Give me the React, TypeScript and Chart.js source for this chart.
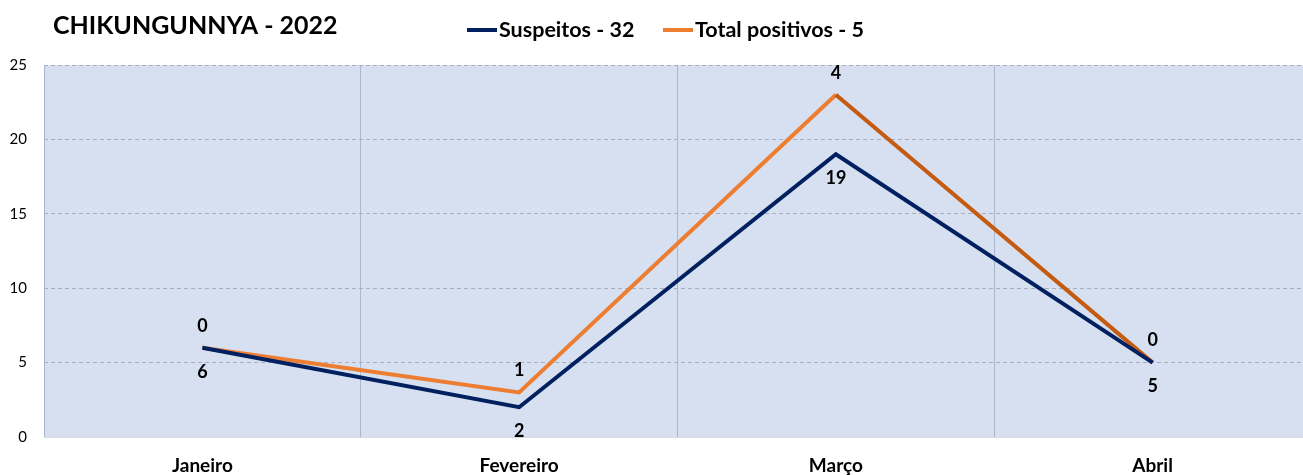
import React, { useEffect, useRef } from "react";
import { Chart, registerables } from "chart.js";

Chart.register(...registerables);

const TITLE = "CHIKUNGUNNYA - 2022";
const MONTHS = ["Janeiro", "Fevereiro", "Março", "Abril"];
const SUSPEITOS = [6, 2, 19, 5];
const POSITIVOS = [0, 1, 4, 0];
const SERIES_LABELS = ["Suspeitos - 32", "Total positivos - 5"];
const Y_MIN = 0;
const Y_MAX = 25;
const Y_STEP = 5;

const NAVY = "#002060";
const ORANGE = "#ED7D31";
const ORANGE_DARK = "#C55A11";
const FONT = "Lato, 'Open Sans', sans-serif";

const bgPlugin = {
  id: "plotBg",
  beforeDraw(chart: any) {
    const { ctx, chartArea } = chart;
    ctx.save();
    ctx.fillStyle = "#D6E0F1";
    ctx.fillRect(chartArea.left, chartArea.top, chartArea.right - chartArea.left, chartArea.bottom - chartArea.top);
    ctx.restore();
  },
};

const labelsPlugin = {
  id: "valueLabels",
  afterDatasetsDraw(chart: any) {
    const { ctx } = chart;
    ctx.save();
    ctx.font = `bold 18px ${FONT}`;
    ctx.fillStyle = "#000";
    ctx.textAlign = "center";
    ctx.textBaseline = "middle";
    chart.data.datasets.forEach((ds: any, di: number) => {
      const meta = chart.getDatasetMeta(di);
      meta.data.forEach((pt: any, i: number) => {
        const v = ds.data[i];
        const dy = di === 0 ? 24 : -22;
        ctx.fillText(String(v), pt.x, pt.y + dy);
      });
    });
    ctx.restore();
  },
};

const headerPlugin = {
  id: "header",
  afterDraw(chart: any) {
    const { ctx } = chart;
    ctx.save();
    ctx.fillStyle = "#000";
    ctx.textBaseline = "middle";
    ctx.textAlign = "left";
    ctx.font = `bold 25px ${FONT}`;
    ctx.fillText(TITLE, 53, 26);
    ctx.font = `bold 21.5px ${FONT}`;
    const colors = [NAVY, ORANGE];
    const xs = [467, 663];
    chart.data.datasets.forEach((ds: any, i: number) => {
      ctx.strokeStyle = colors[i];
      ctx.lineWidth = 4;
      ctx.beginPath();
      ctx.moveTo(xs[i], 30);
      ctx.lineTo(xs[i] + 30, 30);
      ctx.stroke();
      ctx.fillText(ds.label, xs[i] + 32, 30);
    });
    ctx.restore();
  },
};

export default function App() {
  const ref = useRef<HTMLCanvasElement | null>(null);
  useEffect(() => {
    if (!ref.current) return;
    const chart = new Chart(ref.current, {
      type: "line",
      data: {
        labels: MONTHS,
        datasets: [
          {
            label: SERIES_LABELS[0],
            data: SUSPEITOS,
            borderColor: NAVY,
            backgroundColor: NAVY,
            borderWidth: 4,
            pointRadius: 0,
            tension: 0,
            fill: false,
          },
          {
            label: SERIES_LABELS[1],
            data: POSITIVOS,
            borderColor: ORANGE,
            backgroundColor: ORANGE,
            borderWidth: 4,
            pointRadius: 0,
            tension: 0,
            fill: false,
            segment: {
              borderColor: (c: any) => (c.p0DataIndex === 2 ? ORANGE_DARK : ORANGE),
            },
          },
        ],
      },
      options: {
        animation: false,
        responsive: false,
        layout: { padding: { top: 65, left: 0, right: 0, bottom: 0 } },
        plugins: {
          legend: { display: false },
          title: { display: false },
          tooltip: { enabled: false },
        },
        scales: {
          x: {
            offset: true,
            grid: { offset: true, color: "#A9B6CB", lineWidth: 1, drawTicks: false },
            border: { display: true, color: "#D9D9D9", width: 1 },
            ticks: {
              padding: 17,
              color: "#000",
              font: { family: FONT, size: 19, weight: "bold" },
            },
            afterFit: (s: any) => {
              s.height = 38;
            },
          },
          y: {
            stacked: true,
            min: Y_MIN,
            max: Y_MAX,
            grid: {
              color: (c: any) => (c.tick && c.tick.value === 0 ? "rgba(0,0,0,0)" : "#A7AEBE"),
              lineWidth: 1,
              drawTicks: false,
            },
            border: { display: false, dash: [4, 3] },
            ticks: {
              stepSize: Y_STEP,
              padding: 17,
              color: "#000",
              font: { family: FONT, size: 15 },
            },
            afterFit: (s: any) => {
              s.width = 44;
            },
          },
        },
      },
      plugins: [bgPlugin, labelsPlugin, headerPlugin],
    } as any);
    return () => chart.destroy();
  }, []);
  return (
    <div style={{ position: "fixed", left: 0, top: 0, width: 1303, height: 475, overflow: "hidden", background: "#fff" }}>
      <canvas ref={ref} width={1311} height={475} style={{ display: "block", width: 1311, height: 475 }} />
    </div>
  );
}
